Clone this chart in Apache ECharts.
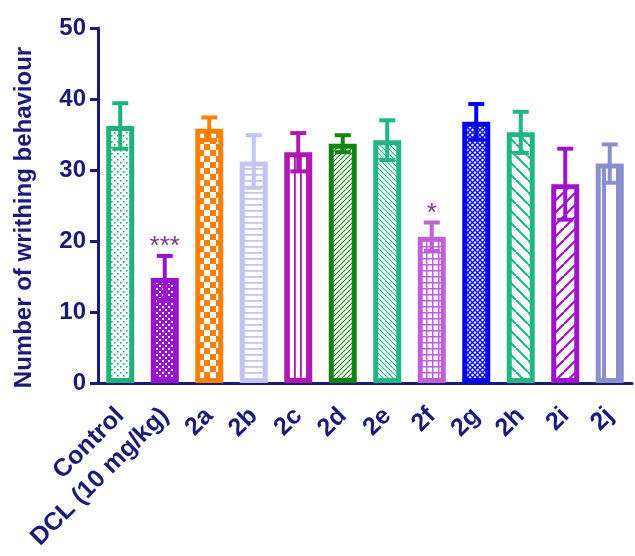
<!DOCTYPE html>
<html>
<head>
<meta charset="utf-8">
<script src="https://cdn.jsdelivr.net/npm/echarts@6/dist/echarts.min.js"></script>
<style>
html,body{margin:0;padding:0;background:#fff;}
#chart{width:635px;height:556px;}
</style>
</head>
<body>
<div id="chart"></div>
<script>
// ---- data ----
var categories = ['Control','DCL (10 mg/kg)','2a','2b','2c','2d','2e','2f','2g','2h','2i','2j'];
var means = [36.2, 14.8, 35.8, 31.2, 32.5, 33.7, 34.2, 20.6, 36.8, 35.3, 28.0, 30.9];
var errors = [3.2, 3.1, 1.6, 3.7, 2.7, 1.2, 2.8, 2.0, 2.5, 2.9, 5.0, 2.7];
var sigLabels = ['', '***', '', '', '', '', '', '*', '', '', '', ''];
var yTicks = [0, 10, 20, 30, 40, 50];

// ---- styles ----
var colors = ['#1fb07c','#9a12d0','#ff8000','#c4c4f2','#b018b4','#138313','#22b585','#c060d8','#0000f0','#22b585','#a012cc','#8a90cc'];
var patterns = ['dots','checkSmall','checkLarge','hlines','vlines','diagFwd','diagBack','grid','crossDense','diagBackWide','diagFwdWide','vlinesWide'];
var navy = '#1a1a78';
var font = 'Liberation Sans, Arial, sans-serif';

function makeTile(type, color) {
  var c = document.createElement('canvas');
  var s = 8;
  if (type === 'dots') s = 6;
  if (type === 'checkSmall') s = 6;
  if (type === 'checkLarge') s = 12;
  if (type === 'hlines') s = 6;
  if (type === 'vlines') s = 6;
  if (type === 'diagFwd' || type === 'diagBack') s = 5;
  if (type === 'grid') s = 6;
  if (type === 'crossDense') s = 5;
  if (type === 'diagBackWide' || type === 'diagFwdWide') s = 12;
  if (type === 'vlinesWide') s = 14;
  c.width = s; c.height = s;
  var g = c.getContext('2d');
  g.fillStyle = '#ffffff';
  g.fillRect(0, 0, s, s);
  g.fillStyle = color;
  g.strokeStyle = color;
  if (type === 'dots') {
    g.fillRect(0, 0, 1.6, 1.6);
    g.fillRect(3, 3, 1.6, 1.6);
  } else if (type === 'checkSmall') {
    g.fillRect(0, 0, s, s);
    g.fillStyle = '#ffffff';
    g.fillRect(0, 0, 2, 2);
    g.fillRect(3, 3, 2, 2);
  } else if (type === 'checkLarge') {
    g.fillRect(0, 0, 6, 6);
    g.fillRect(6, 6, 6, 6);
  } else if (type === 'hlines') {
    g.fillRect(0, 0, s, 1.8);
  } else if (type === 'vlines') {
    g.fillRect(0, 0, 1.8, s);
  } else if (type === 'diagFwd' || type === 'diagFwdWide' || type === 'crossDense') {
    g.lineWidth = type === 'diagFwdWide' ? 2.2 : 1.1;
    if (type === 'crossDense') g.lineWidth = 1.3;
    for (var k = -1; k <= 1; k++) {
      g.beginPath();
      g.moveTo(k * s, s);
      g.lineTo(k * s + s, 0);
      g.stroke();
    }
    if (type === 'crossDense') {
      for (var k2 = -1; k2 <= 1; k2++) {
        g.beginPath();
        g.moveTo(k2 * s, 0);
        g.lineTo(k2 * s + s, s);
        g.stroke();
      }
    }
  } else if (type === 'diagBack' || type === 'diagBackWide') {
    g.lineWidth = type === 'diagBackWide' ? 2.2 : 1.1;
    for (var k3 = -1; k3 <= 1; k3++) {
      g.beginPath();
      g.moveTo(k3 * s, 0);
      g.lineTo(k3 * s + s, s);
      g.stroke();
    }
  } else if (type === 'grid') {
    g.fillRect(0, 0, s, 1.5);
    g.fillRect(0, 0, 1.5, s);
  } else if (type === 'vlinesWide') {
    g.fillRect(0, 0, 4, s);
  }
  return c;
}

var barData = means.map(function (v, i) {
  return {
    value: v,
    itemStyle: {
      color: { image: makeTile(patterns[i], colors[i]), repeat: 'repeat' },
      borderColor: colors[i],
      borderWidth: 5
    }
  };
});

var errData = means.map(function (v, i) { return [i, v, errors[i]]; });

var chart = echarts.init(document.getElementById('chart'), null, { renderer: 'canvas' });

chart.setOption({
  backgroundColor: '#ffffff',
  animation: false,
  grid: { left: 98, right: 3, top: 28, bottom: 173, containLabel: false },
  xAxis: {
    type: 'category',
    data: categories,
    axisLine: { lineStyle: { color: navy, width: 3 } },
    axisTick: { alignWithLabel: true, length: 8, lineStyle: { color: navy, width: 3 } },
    axisLabel: {
      rotate: 45, color: navy, fontFamily: font,
      fontWeight: 'bold', fontSize: 25, margin: 29, interval: 0
    }
  },
  yAxis: {
    type: 'value',
    min: 0, max: 50, interval: 10,
    name: 'Number of writhing behaviour',
    nameLocation: 'middle',
    nameGap: 62,
    nameTextStyle: { color: navy, fontFamily: font, fontWeight: 'bold', fontSize: 24, padding: [0, 24, 0, 0] },
    axisLine: { show: true, lineStyle: { color: navy, width: 3 } },
    axisTick: { show: true, length: 8, lineStyle: { color: navy, width: 3 } },
    axisLabel: {
      color: navy, fontFamily: font, fontWeight: 'bold', fontSize: 24, margin: 12,
      formatter: function (v) { return yTicks.indexOf(v) >= 0 ? String(v) : ''; }
    },
    splitLine: { show: false }
  },
  series: [
    {
      type: 'bar',
      data: barData,
      barWidth: 28,
      z: 2
    },
    {
      type: 'custom',
      data: errData,
      z: 3,
      encode: { x: 0, y: 1 },
      renderItem: function (params, api) {
        var i = api.value(0);
        var m = api.value(1);
        var e = api.value(2);
        var lbl = sigLabels[i];
        var top = api.coord([i, m + e]);
        var bot = api.coord([i, m - e]);
        var x = top[0];
        var col = colors[i];
        var hw = 8;
        var st = { stroke: col, lineWidth: 4 };
        var children = [
          { type: 'line', shape: { x1: x, y1: top[1], x2: x, y2: bot[1] }, style: st },
          { type: 'line', shape: { x1: x - hw, y1: top[1], x2: x + hw, y2: top[1] }, style: st },
          { type: 'line', shape: { x1: x - hw, y1: bot[1], x2: x + hw, y2: bot[1] }, style: st }
        ];
        if (lbl) {
          children.push({
            type: 'text',
            style: {
              text: lbl, x: x, y: top[1] + 4,
              textAlign: 'center', textVerticalAlign: 'bottom',
              fill: '#7e3a8e', fontSize: 26, fontFamily: font
            }
          });
        }
        return { type: 'group', children: children };
      }
    }
  ]
});
</script>
</body>
</html>
